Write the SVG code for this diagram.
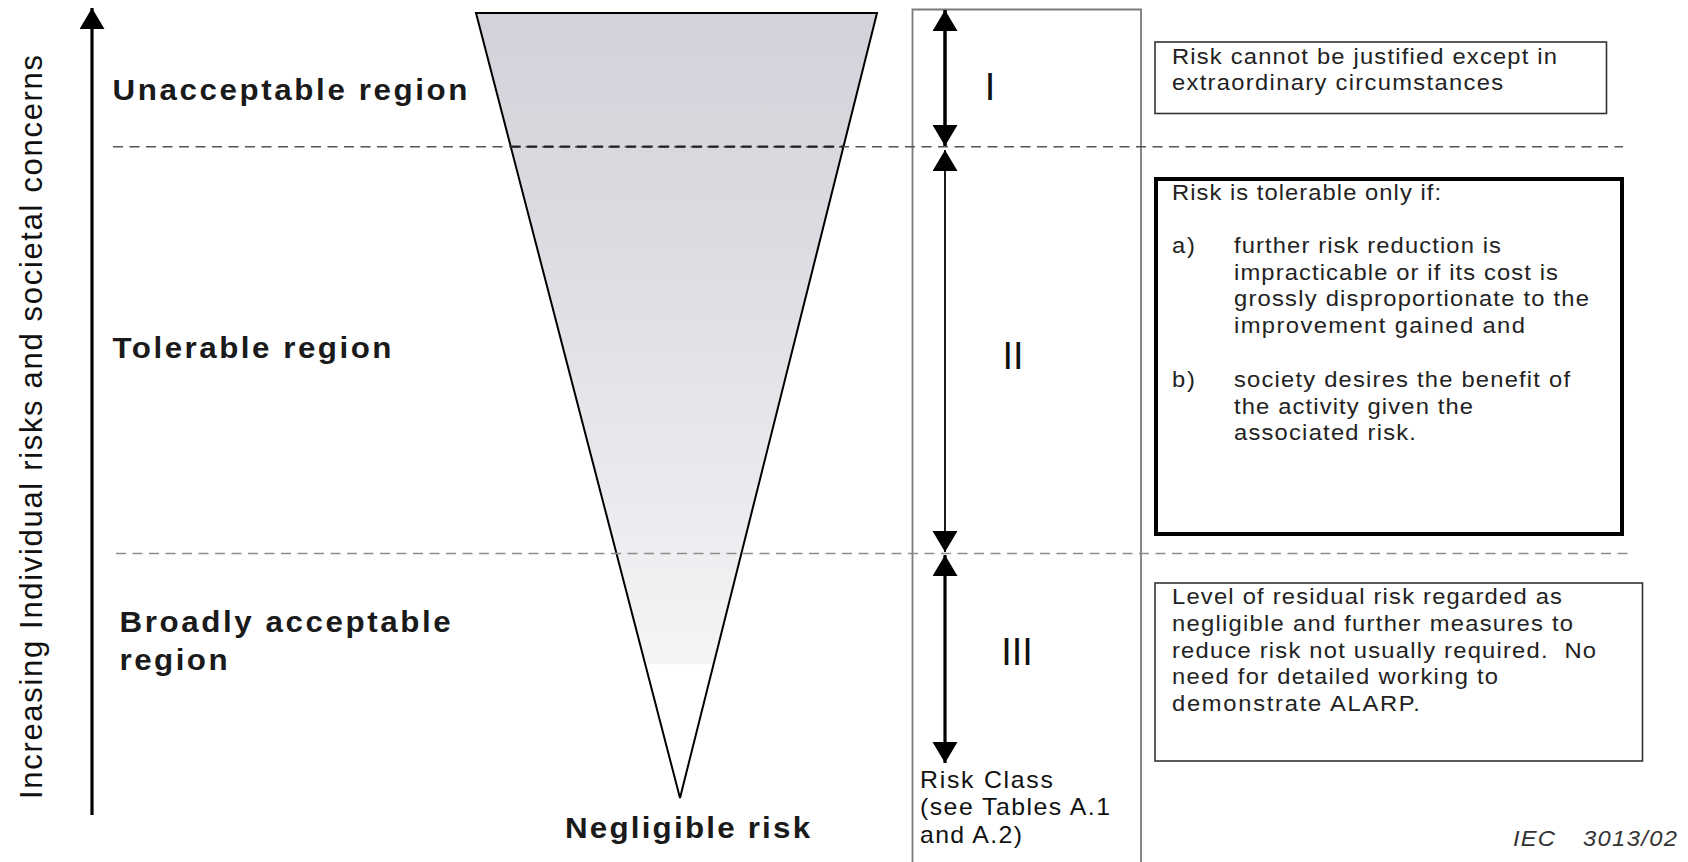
<svg xmlns="http://www.w3.org/2000/svg" width="1688" height="862" viewBox="0 0 1688 862">
  <defs>
    <marker id="ah" markerUnits="userSpaceOnUse" markerWidth="22" markerHeight="26" refX="21" refY="12.5" orient="auto-start-reverse">
      <path d="M0,0 L21,12.5 L0,25 z" fill="#000"/>
    </marker>
    <linearGradient id="tri" gradientUnits="userSpaceOnUse" x1="0" y1="13" x2="0" y2="798">
      <stop offset="0" stop-color="#d2d3da"/>
      <stop offset="0.3" stop-color="#dcdde2"/>
      <stop offset="0.6" stop-color="#eaeaee"/>
      <stop offset="0.829" stop-color="#f5f5f7"/>
      <stop offset="0.83" stop-color="#ffffff"/>
      <stop offset="1" stop-color="#ffffff"/>
    </linearGradient>
    <style>
      .lbl { font-family: "Liberation Sans", Arial, sans-serif; font-weight: bold; font-size: 29px; fill: #1a1a1a; }
      .box { fill: #fff; stroke: #333; stroke-width: 1.6; }
      .bt { font-family: "Liberation Sans", Arial, sans-serif; font-size: 22px; fill: #222; }
      .rn { font-family: "Liberation Sans", Arial, sans-serif; font-size: 38px; fill: #111; text-anchor: middle; }
      .rc { font-family: "Liberation Sans", Arial, sans-serif; font-size: 23px; fill: #111; }
      .dash1 { stroke: #555; stroke-width: 1.6; stroke-dasharray: 10 6.5; fill: none; }
      .dash2 { stroke: #8c8c8c; stroke-width: 1.6; stroke-dasharray: 10 6.5; fill: none; }
      .arr { stroke: #000; fill: none; }
    </style>
  </defs>

  <rect x="0" y="0" width="1688" height="862" fill="#fff"/>

  <g id="triangle">
    <polygon points="476,13 877,13 680,798" fill="url(#tri)" stroke="#000" stroke-width="2" stroke-linejoin="miter"/>
  </g>

  <g id="risk-class-column">
    <path d="M912.5,870 L912.5,9.5 L1141,9.5 L1141,870" fill="none" stroke="#7a7a7a" stroke-width="1.8"/>
  </g>

  <g id="connectors">
    <line x1="113" y1="146.7" x2="1623" y2="146.7" class="dash1"/>
    <line x1="510.7" y1="146.7" x2="843.4" y2="146.7" stroke="#222" stroke-width="2.2" stroke-dasharray="10 6.5" fill="none"/>
    <line x1="116" y1="553.5" x2="1634" y2="553.5" class="dash2"/>
    <line x1="92" y1="815" x2="92" y2="8" class="arr" stroke-width="3.2" marker-end="url(#ah)"/>
    <line x1="945" y1="10" x2="945" y2="146" class="arr" stroke-width="3.5" marker-start="url(#ah)" marker-end="url(#ah)"/>
    <line x1="945" y1="150" x2="945" y2="552" class="arr" stroke-width="1.8" marker-start="url(#ah)" marker-end="url(#ah)"/>
    <line x1="945" y1="555" x2="945" y2="763" class="arr" stroke-width="3.2" marker-start="url(#ah)" marker-end="url(#ah)"/>
  </g>

  <g id="axis-label">
    <text transform="translate(42,799) rotate(-90)" font-family="Liberation Sans, Arial, sans-serif" font-size="31" fill="#111" textLength="744" lengthAdjust="spacing">Increasing Individual risks and societal concerns</text>
  </g>

  <g id="region-unacceptable">
    <text class="lbl" transform="matrix(1.08 0 0 1 112.5 100)" textLength="328.7" lengthAdjust="spacing">Unacceptable region</text>
  </g>
  <g id="region-tolerable">
    <text class="lbl" transform="matrix(1.08 0 0 1 112.5 358)" textLength="258.3" lengthAdjust="spacing">Tolerable region</text>
  </g>
  <g id="region-broadly">
    <text class="lbl" transform="matrix(1.08 0 0 1 119.6 632)" textLength="306.5" lengthAdjust="spacing">Broadly acceptable</text>
    <text class="lbl" transform="matrix(1.08 0 0 1 119.6 670)" textLength="100" lengthAdjust="spacing">region</text>
  </g>
  <g id="negligible">
    <text class="lbl" transform="matrix(1.08 0 0 1 565 838)" textLength="226.9" lengthAdjust="spacing">Negligible risk</text>
  </g>

  <g id="class-labels">
    <text class="rn" x="990" y="100">I</text>
    <text class="rn" x="1013" y="369">II</text>
    <text class="rn" x="1017" y="665">III</text>
  </g>

  <g id="risk-class-label">
    <text class="rc" transform="matrix(1.08 0 0 1 920 788)" textLength="123.1" lengthAdjust="spacing">Risk Class</text>
    <text class="rc" transform="matrix(1.08 0 0 1 920 815)" textLength="175.9" lengthAdjust="spacing">(see Tables A.1</text>
    <text class="rc" transform="matrix(1.08 0 0 1 920 843)" textLength="94.4" lengthAdjust="spacing">and A.2)</text>
  </g>

  <g id="box-unacceptable">
    <rect class="box" x="1155" y="42" width="451.5" height="71.5"/>
    <text class="bt" transform="matrix(1.08 0 0 1 1172 64)" textLength="356.5" lengthAdjust="spacing">Risk cannot be justified except in</text>
    <text class="bt" transform="matrix(1.08 0 0 1 1172 90)" textLength="306.5" lengthAdjust="spacing">extraordinary circumstances</text>
  </g>

  <g id="box-tolerable">
    <rect x="1156" y="179" width="466" height="355" fill="#fff" stroke="#000" stroke-width="4"/>
    <text class="bt" transform="matrix(1.08 0 0 1 1172 200)" textLength="249.1" lengthAdjust="spacing">Risk is tolerable only if:</text>
    <text class="bt" transform="matrix(1.08 0 0 1 1172 253)" textLength="21.3" lengthAdjust="spacing">a)</text>
    <text class="bt" transform="matrix(1.08 0 0 1 1234 253)" textLength="247.2" lengthAdjust="spacing">further risk reduction is</text>
    <text class="bt" transform="matrix(1.08 0 0 1 1234 279.5)" textLength="300" lengthAdjust="spacing">impracticable or if its cost is</text>
    <text class="bt" transform="matrix(1.08 0 0 1 1234 306)" textLength="328.7" lengthAdjust="spacing">grossly disproportionate to the</text>
    <text class="bt" transform="matrix(1.08 0 0 1 1234 332.5)" textLength="269.4" lengthAdjust="spacing">improvement gained and</text>
    <text class="bt" transform="matrix(1.08 0 0 1 1172 387)" textLength="21.3" lengthAdjust="spacing">b)</text>
    <text class="bt" transform="matrix(1.08 0 0 1 1234 387)" textLength="311.1" lengthAdjust="spacing">society desires the benefit of</text>
    <text class="bt" transform="matrix(1.08 0 0 1 1234 413.5)" textLength="221.3" lengthAdjust="spacing">the activity given the</text>
    <text class="bt" transform="matrix(1.08 0 0 1 1234 440)" textLength="168.5" lengthAdjust="spacing">associated risk.</text>
  </g>

  <g id="box-broadly">
    <rect class="box" x="1155" y="583" width="487.5" height="178"/>
    <text class="bt" transform="matrix(1.08 0 0 1 1172 604)" textLength="361.1" lengthAdjust="spacing">Level of residual risk regarded as</text>
    <text class="bt" transform="matrix(1.08 0 0 1 1172 630.8)" textLength="371.3" lengthAdjust="spacing">negligible and further measures to</text>
    <text class="bt" transform="matrix(1.08 0 0 1 1172 657.6)" textLength="392.6" lengthAdjust="spacing" xml:space="preserve">reduce risk not usually required.  No</text>
    <text class="bt" transform="matrix(1.08 0 0 1 1172 684.4)" textLength="301.9" lengthAdjust="spacing">need for detailed working to</text>
    <text class="bt" transform="matrix(1.08 0 0 1 1172 711.2)" textLength="229.6" lengthAdjust="spacing">demonstrate ALARP.</text>
  </g>

  <g id="figure-id">
    <text transform="matrix(1.08 0 0 1 1513 846)" font-family="Liberation Sans, Arial, sans-serif" font-size="22" font-style="italic" fill="#333" textLength="38.9" lengthAdjust="spacing">IEC</text>
    <text transform="matrix(1.08 0 0 1 1583 846)" font-family="Liberation Sans, Arial, sans-serif" font-size="22" font-style="italic" fill="#333" textLength="87" lengthAdjust="spacing">3013/02</text>
  </g>
</svg>
